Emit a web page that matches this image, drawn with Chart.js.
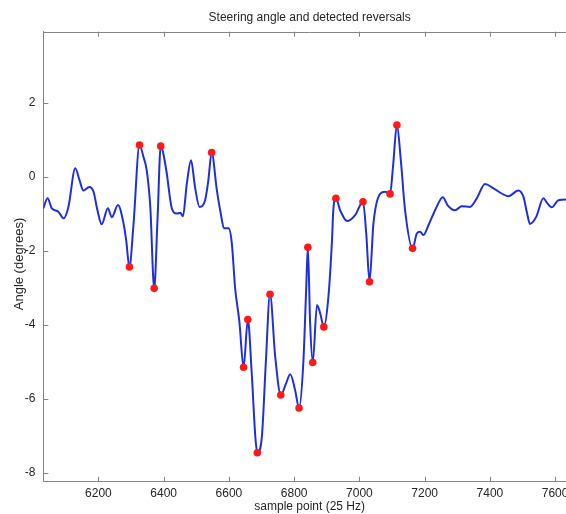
<!DOCTYPE html>
<html>
<head>
<meta charset="utf-8">
<script src="https://cdn.jsdelivr.net/npm/chart.js@4.4.1/dist/chart.umd.min.js"></script>
<style>
  html, body { margin: 0; padding: 0; background: #ffffff; overflow: hidden; width: 566px; height: 514px; }
  canvas { display: block; }
</style>
</head>
<body>
<canvas id="c" width="600" height="514"></canvas>
<script>
// ---- data ----
const sampleX = [6031,6044,6057,6077,6093,6108,6129,6142,6154,6172,6185,6197,6210,6229,6241,6260,6277,6285,6295,6307,
  6326,6338,6348,6359,6371,6381,6391,6408,6425,6440,6451,6459,6471,6484,6496,6510,6527,6537,6547,6563,
  6575,6585,6599,6609,6619,6632,6645,6658,6670,6681,6687,6701,6713,6726,6742,6759,6775,6788,6803,6815,
  6828,6837,6842,6849,6857,6870,6880,6891,6905,6916,6920,6928,6941,6962,6987,7011,7021,7031,7043,7064,
  7079,7094,7103,7115,7127,7140,7163,7176,7186,7196,7212,7232,7256,7270,7293,7314,7339,7360,7385,7411,
  7457,7487,7503,7513,7523,7542,7564,7575,7590,7610,7634,7664];
const angle = [-0.85,-0.58,-0.85,-0.94,-1.12,-0.81,0.23,-0.09,-0.37,-0.27,-0.40,-0.90,-1.28,-0.85,-1.09,-0.76,-1.26,-1.71,-2.43,-1.35,
  0.86,0.54,0.18,-0.81,-3.01,-1.17,0.83,0.18,-0.85,-0.99,-0.97,-1.06,-0.18,0.45,-0.27,-0.81,-0.63,-0.09,0.66,-0.36,
  -0.99,-1.39,-1.39,-1.80,-3.00,-3.90,-5.14,-3.85,-5.31,-7.02,-7.45,-7.02,-5.04,-3.17,-4.86,-5.89,-5.58,-5.33,-5.76,-6.24,
  -5.04,-3.00,-1.90,-3.96,-5.01,-3.46,-3.69,-4.05,-3.24,-1.71,-0.90,-0.58,-0.90,-1.19,-1.03,-0.67,-1.53,-2.83,-1.26,-0.45,
  -0.40,-0.46,0.27,1.40,0.45,-0.90,-1.93,-1.53,-1.48,-1.57,-1.30,-0.90,-0.55,-0.76,-0.90,-0.79,-0.81,-0.58,-0.19,-0.31,
  -0.52,-0.37,-0.54,-0.94,-1.27,-1.08,-0.58,-0.70,-0.82,-0.63,-0.61,-0.62];
const reversalX = [6295,6326,6371,6391,6547,6645,6658,6687,6726,6759,6815,6842,6857,6891,6928,7011,7031,7094,7115,7163];
const reversalY = [-2.43,0.86,-3.01,0.83,0.66,-5.14,-3.85,-7.45,-3.17,-5.89,-6.24,-1.90,-5.01,-4.05,-0.58,-0.67,-2.83,-0.46,1.40,-1.93];
const xTicks = [6200,6400,6600,6800,7000,7200,7400,7600];
const yTicks = [-8,-6,-4,-2,0,2];
const titleText = 'Steering angle and detected reversals';
const xTitle = 'sample point (25 Hz)';
const yTitle = 'Angle (degrees)';

// ---- styling ----
const AXIS = '#858585';
const TEXT = '#262626';
const FONT = "'Liberation Sans', Arial, Helvetica, sans-serif";

Chart.defaults.font.family = FONT;
Chart.defaults.font.size = 12;
Chart.defaults.color = TEXT;

const inwardTicks = {
  id: 'inwardTicks',
  afterDraw(chart) {
    const {ctx, chartArea: a, scales: {x, y}} = chart;
    ctx.save();
    ctx.strokeStyle = AXIS;
    ctx.lineWidth = 1;
    ctx.beginPath();
    const top = Math.round(a.top) + 0.5;
    ctx.moveTo(a.left, top); ctx.lineTo(a.right, top);
    x.ticks.forEach(t => {
      const px = Math.round(x.getPixelForValue(t.value)) + 0.5;
      ctx.moveTo(px, a.bottom); ctx.lineTo(px, a.bottom - 5);
      ctx.moveTo(px, a.top); ctx.lineTo(px, a.top + 5);
    });
    y.ticks.forEach(t => {
      const py = Math.round(y.getPixelForValue(t.value)) + 0.5;
      ctx.moveTo(a.left, py); ctx.lineTo(a.left + 5, py);
    });
    ctx.stroke();
    // y-axis title, placed like the reference
    ctx.fillStyle = TEXT;
    ctx.font = '13px ' + FONT;
    ctx.textAlign = 'center';
    ctx.textBaseline = 'middle';
    ctx.translate(19, 264);
    ctx.rotate(-Math.PI / 2);
    ctx.fillText(yTitle, 0, 0);
    ctx.restore();
  }
};

new Chart(document.getElementById('c'), {
  type: 'line',
  data: {
    datasets: [
      {
        type: 'scatter',
        data: reversalX.map((v, i) => ({x: v, y: reversalY[i]})),
        backgroundColor: '#ff1a1a',
        borderColor: '#ff1a1a',
        pointRadius: 3.8,
        pointBorderWidth: 0,
        showLine: false
      },
      {
        data: sampleX.map((v, i) => ({x: v, y: angle[i]})),
        borderColor: '#1f2fe0',
        borderWidth: 2,
        pointRadius: 0,
        fill: false,
        tension: 0.4,
        cubicInterpolationMode: 'monotone'
      }
    ]
  },
  options: {
    responsive: false,
    animation: false,
    events: [],
    layout: { padding: { left: 0, right: 24, top: 0, bottom: 0 } },
    plugins: {
      legend: { display: false },
      tooltip: { enabled: false },
      title: {
        display: true,
        text: titleText,
        fullSize: false,
        color: TEXT,
        font: { size: 12, weight: 'normal', family: FONT },
        padding: { top: 10, bottom: 7.3 }
      }
    },
    scales: {
      x: {
        type: 'linear',
        min: 6031,
        max: 7664,
        grid: { display: false, drawTicks: false },
        border: { display: true, color: AXIS, width: 1 },
        afterBuildTicks: s => { s.ticks = xTicks.map(v => ({value: v})); },
        afterFit: s => { s.height = 32.3; },
        ticks: { padding: 5, maxRotation: 0, autoSkip: false, color: TEXT, font: { size: 12 },
                 callback: v => String(v) },
        title: { display: true, text: xTitle, color: TEXT, font: { size: 12 }, padding: { top: 0, bottom: 0.5 } }
      },
      y: {
        type: 'linear',
        min: -8.23,
        max: 3.92,
        grid: { display: false, drawTicks: false },
        border: { display: true, color: AXIS, width: 1 },
        afterBuildTicks: s => { s.ticks = yTicks.map(v => ({value: v})); },
        afterFit: s => { s.width = 43.3; },
        ticks: { padding: 8, color: TEXT, font: { size: 12 }, callback: v => String(v) },
        title: { display: false }
      }
    }
  },
  plugins: [inwardTicks]
});
</script>
</body>
</html>
